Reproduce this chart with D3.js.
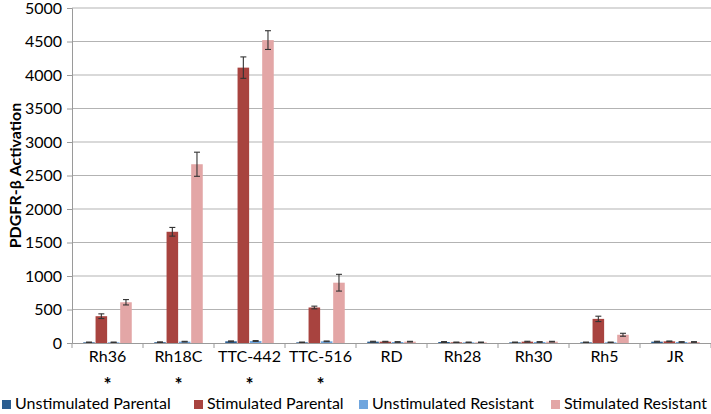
<!DOCTYPE html>
<html>
<head>
<meta charset="utf-8">
<script src="https://cdn.jsdelivr.net/npm/d3@7"></script>
<style>
  body { margin: 0; background: #fff; }
  text { font-family: Lato, "Open Sans", sans-serif; fill: #000; }
</style>
</head>
<body>
<div id="chart"></div>
<script>
// PDGFR-beta activation per cell line, grouped bars with error bars
const cellLines = ['Rh36', 'Rh18C', 'TTC-442', 'TTC-516', 'RD', 'Rh28', 'Rh30', 'Rh5', 'JR'];
const seriesNames = ['Unstimulated Parental', 'Stimulated Parental', 'Unstimulated Resistant', 'Stimulated Resistant'];
const seriesColors = ['#2b5e91', '#a8433f', '#6fa5de', '#e3a6a6'];

const unstimParental = [10, 12, 25, 10, 20, 15, 10, 10, 20];
const stimParental = [400, 1660, 4110, 530, 20, 10, 20, 360, 25];
const unstimResistant = [10, 20, 30, 25, 15, 10, 15, 10, 15];
const stimResistant = [608, 2668, 4521, 900, 20, 10, 20, 123, 15];

const errUnstimParental = [4, 5, 6, 4, 6, 6, 4, 4, 6];
const errStimParental = [35, 65, 160, 20, 5, 4, 6, 40, 5];
const errUnstimResistant = [4, 5, 6, 5, 5, 4, 5, 4, 5];
const errStimResistant = [40, 180, 140, 125, 5, 4, 5, 22, 5];

const starred = ['Rh36', 'Rh18C', 'TTC-442', 'TTC-516'];
const yTicks = [0, 500, 1000, 1500, 2000, 2500, 3000, 3500, 4000, 4500, 5000];

const values = [unstimParental, stimParental, unstimResistant, stimResistant];
const errors = [errUnstimParental, errStimParental, errUnstimResistant, errStimResistant];

const W = 711, H = 414;
const margin = { top: 8, right: 0, bottom: 71, left: 72 };
const width = W - margin.left - margin.right;
const height = H - margin.top - margin.bottom;

const svg = d3.select('#chart').append('svg')
  .attr('width', W).attr('height', H);
const g = svg.append('g').attr('transform', `translate(${margin.left},${margin.top})`);

const x0 = d3.scaleBand().domain(cellLines).range([0, width]).padding(0);
const x1 = d3.scaleBand().domain(d3.range(4)).range([10.5, x0.bandwidth() - 10.5]).padding(0.06);
const y = d3.scaleLinear().domain([0, 5000]).range([height, 0]);

// gridlines
g.selectAll('line.grid').data(yTicks.filter(d => d > 0)).enter().append('line')
  .attr('class', 'grid')
  .attr('x1', 0).attr('x2', width)
  .attr('y1', d => y(d)).attr('y2', d => y(d))
  .attr('stroke', '#b3b3b3').attr('stroke-width', 1.2);

// y axis
const yAxis = d3.axisLeft(y).tickValues(yTicks).tickFormat(d3.format('d')).tickSize(5).tickPadding(5);
const yAxisG = g.append('g').call(yAxis);
yAxisG.select('.domain').attr('stroke', '#9a9a9a');
yAxisG.selectAll('.tick line').attr('stroke', '#9a9a9a');
yAxisG.selectAll('.tick text').style('font-size', '16px').attr('fill', '#000');

// bars
const groups = g.selectAll('g.group').data(cellLines).enter().append('g')
  .attr('class', 'group')
  .attr('transform', d => `translate(${x0(d)},0)`);

const barData = (name, i) => values.map((vals, s) => ({ s, v: vals[i], e: errors[s][i] }));

groups.selectAll('rect').data(barData).enter().append('rect')
  .attr('x', d => x1(d.s))
  .attr('width', x1.bandwidth())
  .attr('y', d => y(d.v))
  .attr('height', d => height - y(d.v))
  .attr('fill', d => seriesColors[d.s]);

// error bars
const eb = groups.selectAll('g.err').data(barData).enter().append('g').attr('class', 'err')
  .attr('stroke', '#333').attr('stroke-width', 1.1);
eb.append('line')
  .attr('x1', d => x1(d.s) + x1.bandwidth() / 2).attr('x2', d => x1(d.s) + x1.bandwidth() / 2)
  .attr('y1', d => y(d.v + d.e)).attr('y2', d => y(Math.max(0, d.v - d.e)));
eb.append('line')
  .attr('x1', d => x1(d.s) + x1.bandwidth() / 2 - 3).attr('x2', d => x1(d.s) + x1.bandwidth() / 2 + 3)
  .attr('y1', d => y(d.v + d.e)).attr('y2', d => y(d.v + d.e));
eb.append('line')
  .attr('x1', d => x1(d.s) + x1.bandwidth() / 2 - 3).attr('x2', d => x1(d.s) + x1.bandwidth() / 2 + 3)
  .attr('y1', d => y(Math.max(0, d.v - d.e))).attr('y2', d => y(Math.max(0, d.v - d.e)));

// x axis
const xAxisG = g.append('g').attr('transform', `translate(0,${height})`)
  .call(d3.axisBottom(x0).tickSize(0).tickPadding(8));
xAxisG.select('.domain').attr('stroke', '#9a9a9a');
xAxisG.selectAll('.tick text').style('font-size', '16px').attr('fill', '#000');
// category separator ticks
xAxisG.selectAll('line.sep').data(d3.range(cellLines.length + 1)).enter().append('line')
  .attr('class', 'sep')
  .attr('x1', i => i * x0.step()).attr('x2', i => i * x0.step())
  .attr('y1', 0).attr('y2', 5)
  .attr('stroke', '#9a9a9a');

// significance asterisks
g.selectAll('text.star').data(starred).enter().append('text')
  .attr('class', 'star')
  .attr('x', d => x0(d) + x0.bandwidth() / 2)
  .attr('y', height + 48)
  .attr('text-anchor', 'middle')
  .style('font-size', '19px').style('font-weight', 'bold')
  .text('*');

// y title
svg.append('text')
  .attr('transform', `translate(21,${margin.top + height / 2}) rotate(-90)`)
  .attr('text-anchor', 'middle')
  .style('font-size', '16px').style('font-weight', 'bold')
  .text('PDGFR-β Activation');

// legend
const legendX = [2, 194, 359, 551];
const legend = svg.selectAll('g.legend').data(seriesNames).enter().append('g')
  .attr('class', 'legend')
  .attr('transform', (d, i) => `translate(${legendX[i]},${H - 4})`);
legend.append('rect').attr('x', 0).attr('y', -10).attr('width', 9).attr('height', 9)
  .attr('fill', (d, i) => seriesColors[i]);
legend.append('text').attr('x', 13).attr('y', -1)
  .style('font-size', '16px')
  .text(d => d);
</script>
</body>
</html>
